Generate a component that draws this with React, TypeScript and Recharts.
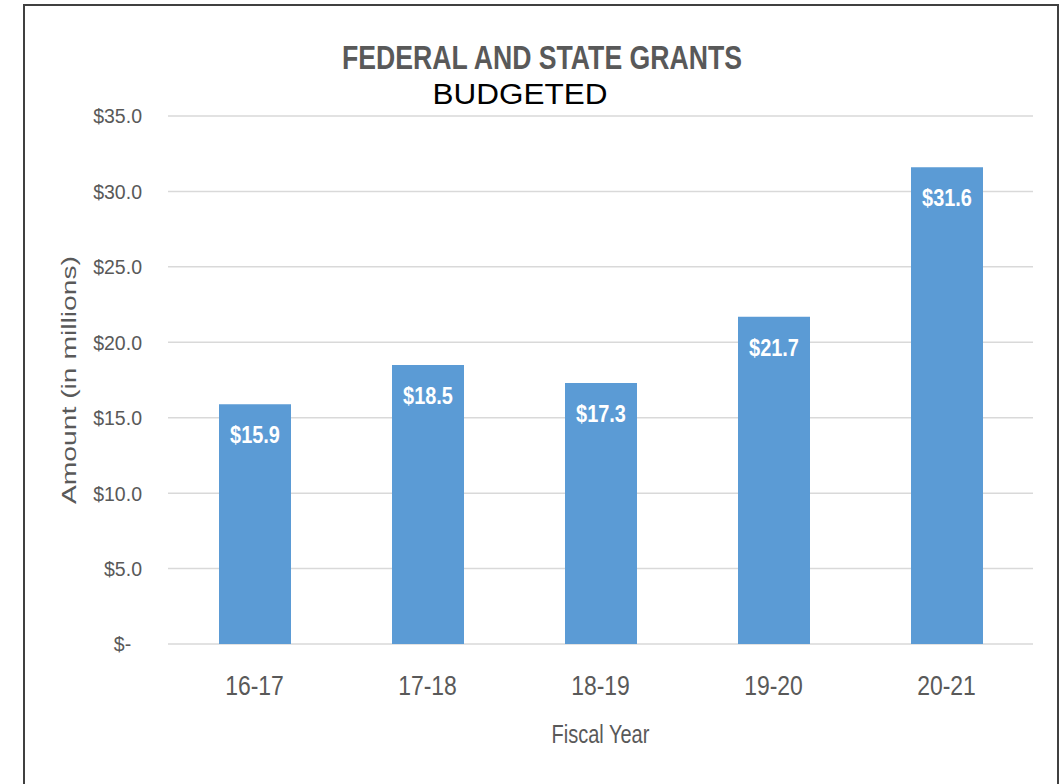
import { BarChart, Bar, XAxis, YAxis, CartesianGrid, LabelList } from "recharts";

const fiscalYears = ["16-17", "17-18", "18-19", "19-20", "20-21"];
const grantAmounts = [15.9, 18.5, 17.3, 21.7, 31.6];
const amountTicks = [0, 5, 10, 15, 20, 25, 30, 35];

const data = fiscalYears.map((year, i) => ({ year, amount: grantAmounts[i] }));

const SANS = "'Liberation Sans', Arial, sans-serif";
const GRAY = "#595959";

const money = (v: number) => (v === 0 ? "$-\u00A0\u00A0" : `$${v.toFixed(1)}`);

// the source is Calibri squeezed sideways, so text gets a horizontal scale
function Squeezed({ x, y, sx, children, ...rest }: any) {
    return (
        <text x={0} y={0} transform={`translate(${x}, ${y}) scale(${sx}, 1)`} fontFamily={SANS} {...rest}>
            {children}
        </text>
    );
}

function YearTick(props: any) {
    return (
        <Squeezed x={props.x} y={props.y} sx={0.82} textAnchor="middle" dy="0.71em" fill={GRAY} fontSize={28}>
            {props.payload.value}
        </Squeezed>
    );
}

function AmountTick(props: any) {
    return (
        <Squeezed x={props.x} y={props.y} sx={0.93} textAnchor="end" dy="0.355em" fill={GRAY} fontSize={21}>
            {money(props.payload.value)}
        </Squeezed>
    );
}

function BarValue(props: any) {
    const { x, y, width, value } = props;
    return (
        <Squeezed x={Number(x) + Number(width) / 2} y={Number(y) + 22} sx={0.83} textAnchor="middle" dy="0.71em" fill="#fff" fontSize={24} fontWeight="bold">
            {`$${Number(value).toFixed(1)}`}
        </Squeezed>
    );
}

function FiscalLabel(props: any) {
    const vb = props.viewBox || {};
    const cx = (vb.x ?? 168) + (vb.width ?? 865) / 2;
    return (
        <Squeezed x={cx} y={743} sx={0.8} textAnchor="middle" fill={GRAY} fontSize={25}>
            Fiscal Year
        </Squeezed>
    );
}

function AmountLabel(props: any) {
    const vb = props.viewBox || {};
    const cy = (vb.y ?? 116) + (vb.height ?? 528) / 2;
    return (
        <text
            x={0}
            y={0}
            transform={`translate(76, ${cy}) rotate(-90)`}
            textAnchor="middle"
            fill={GRAY}
            fontSize={21}
            fontFamily={SANS}
            textLength={248}
            lengthAdjust="spacingAndGlyphs"
        >
            Amount (in millions)
        </text>
    );
}

export default function App() {
    return (
        <div style={{ position: "absolute", left: 0, top: 0, width: 1064, height: 784, background: "#fff", overflow: "hidden" }}>
            <div style={{ position: "absolute", left: 23, top: 4, width: 1032, height: 820, border: "2px solid #404040" }} />
            <div style={{ position: "absolute", left: 0, top: 0 }}>
                <BarChart width={1064} height={784} data={data} margin={{ top: 116, right: 31, left: 0, bottom: 0 }}>
                    <CartesianGrid vertical={false} stroke="#D9D9D9" strokeWidth={1.5} />
                    <XAxis
                        dataKey="year"
                        height={140}
                        axisLine={false}
                        tickLine={false}
                        tickSize={0}
                        tickMargin={31}
                        tick={(p: any) => <YearTick {...p} />}
                        label={{ content: (p: any) => <FiscalLabel {...p} /> }}
                    />
                    <YAxis
                        width={168}
                        domain={[0, 35]}
                        ticks={amountTicks}
                        interval={0}
                        axisLine={false}
                        tickLine={false}
                        tickSize={0}
                        tickMargin={26}
                        tick={(p: any) => <AmountTick {...p} />}
                        label={{ content: (p: any) => <AmountLabel {...p} /> }}
                    />
                    <Bar dataKey="amount" fill="#5B9BD5" barSize={72} isAnimationActive={false}>
                        <LabelList dataKey="amount" content={(p: any) => <BarValue {...p} />} />
                    </Bar>
                </BarChart>
            </div>
            <svg width={1064} height={120} style={{ position: "absolute", left: 0, top: 0, pointerEvents: "none" }}>
                <text x={542} y={69} textAnchor="middle" fill={GRAY} fontSize={34} fontWeight="bold" fontFamily={SANS} textLength={400} lengthAdjust="spacingAndGlyphs">
                    FEDERAL AND STATE GRANTS
                </text>
                <text x={520} y={104} textAnchor="middle" fill="#000" fontSize={30} fontFamily={SANS} textLength={175} lengthAdjust="spacingAndGlyphs">
                    BUDGETED
                </text>
            </svg>
        </div>
    );
}
